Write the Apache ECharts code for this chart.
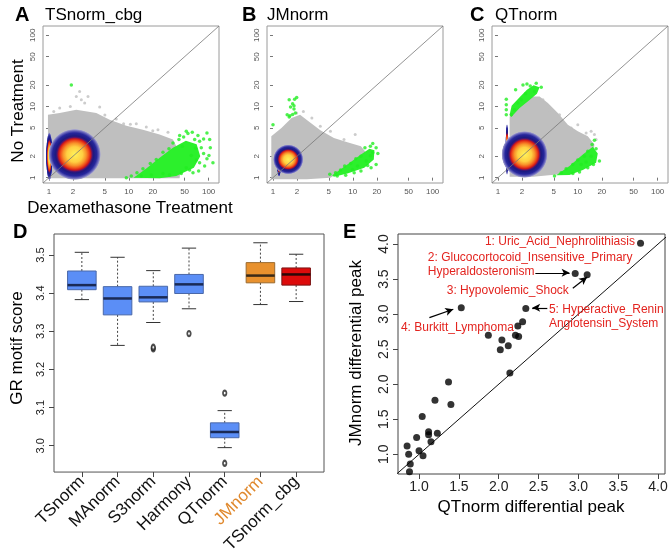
<!DOCTYPE html>
<html><head><meta charset="utf-8">
<script src="https://cdn.jsdelivr.net/npm/echarts@6/dist/echarts.min.js"></script>
<style>html,body{margin:0;padding:0;background:#fff}#c{width:672px;height:556px}</style>
</head><body><div id="c"></div><script>
// ---------- Panels A-C : log10 read counts (x = Dexamethasone, y = No treatment) ----------
const foldTicks = [1, 2, 5, 10, 20, 50, 100];
const scatterTitles = ['TSnorm_cbg', 'JMnorm', 'QTnorm'];

const cloudA = [[-0.013,-0.009],[-0.013,0.884],[0.134,0.907],[0.342,0.953],[0.593,0.907],[0.760,0.814],[0.969,0.730],[1.177,0.674],[1.386,0.605],[1.553,0.535],[1.658,0.302],[1.637,-0.009]];
const greyPtsA = [[0.342,1.140],[0.405,1.093],[0.447,1.047],[0.489,1.140],[0.384,1.209],[0.267,1.0],[0.635,0.991],[0.843,0.823],[0.935,0.758],[1.094,0.758],[1.219,0.712],[1.365,0.674],[1.491,0.637],[0.134,0.977],[0.70,0.88],[1.02,0.75],[1.30,0.66],[0.06,0.93]];
const densA = [[0.005,0.30,0.045,0.34],[0.322,0.326,0.33,0.36]];
const greenAreaA = [[[1.06,0],[1.219,0.130],[1.386,0.280],[1.553,0.420],[1.715,0.520],[1.850,0.470],[1.895,0.300],[1.815,0.140],[1.595,0.023],[1.386,-0.009]]];
const greenPtsA = [[0.969,0],[1.031,0.023],[1.102,0.070],[1.177,0.126],[1.269,0.200],[1.344,0.256],[1.428,0.358],[1.503,0.405],[1.553,0.488],[1.628,0.535],[1.687,0.572],[1.741,0.619],[1.795,0.637],[1.866,0.591],[1.937,0.544],[1.979,0.628],[2.021,0.419],[2.054,0.209],[1.979,0.265],[1.950,0.163],[1.887,0.209],[1.875,0.093],[1.804,0.070],[1.720,0.140],[1.657,0.060],[1.511,0.037],[1.428,0.060],[1.282,0.037],[1.156,0.023],[1.783,0.312],[1.837,0.414],[1.937,0.340],[2.004,0.312],[1.908,0.419],[1.845,0.247],[1.762,0.107],[1.670,0.442],[1.887,0.512],[1.825,0.535],[1.637,0.591],[2.013,0.535],[1.720,0.651],[0.280,1.302]];

const cloudB = [[-0.021,-0.023],[-0.021,0.581],[0.106,0.698],[0.233,0.837],[0.339,0.884],[0.445,0.791],[0.593,0.665],[0.763,0.558],[0.932,0.498],[1.102,0.442],[1.186,0.326],[0.720,0],[0.424,-0.023]];
const greyPtsB = [[0.381,0.930],[0.297,0.907],[0.487,0.837],[0.593,0.721],[0.720,0.651],[0.890,0.535],[1.030,0.605],[0.932,0.442]];
const densB = [[0.076,0.20,0.03,0.19],[0.191,0.256,0.19,0.21]];
const greenAreaB = [[[0.742,0.033],[0.932,0.186],[1.102,0.326],[1.208,0.405],[1.271,0.386],[1.263,0.256],[1.144,0.140],[0.932,0.060],[0.763,0.014]]];
const greenPtsB = [[0,0.744],[0.203,1.093],[0.246,1.037],[0.220,0.991],[0.263,0.963],[0.178,0.884],[0.212,0.870],[0.246,0.888],[0.280,0.907],[0.203,0.851],[0.271,1.102],[0.297,1.126],[0.263,1.009],
  [0.712,0.047],[0.784,0.070],[0.847,0.107],[0.898,0.163],[0.975,0.200],[1.038,0.265],[1.102,0.302],[1.152,0.419],[1.220,0.442],[1.250,0.479],[1.292,0.419],[1.314,0.340],[1.292,0.186],[1.229,0.140],[1.186,0.172],[1.102,0.093],[1.017,0.070],[0.911,0.033],[0.805,0.023],[1.220,0.307],[1.059,0.163],[1.169,0.233],[1.250,0.349],[0.996,0.116]];

const cloudC = [[0.146,0.014],[0.146,0.860],[0.271,1.009],[0.417,1.140],[0.521,1.140],[0.625,1.047],[0.750,0.907],[0.875,0.744],[1.000,0.651],[1.125,0.581],[1.208,0.465],[1.188,0.302],[0.771,0.047],[0.438,0.014]];
const greyPtsC = [[0.563,1.093],[0.646,0.953],[0.708,0.884],[0.771,0.884],[0.917,0.698],[1.000,0.744],[1.104,0.628],[1.208,0.605],[1.229,0.535],[1.167,0.651]];
const densC = [[0.113,0.395,0.022,0.37],[0.333,0.326,0.29,0.33]];
const greenAreaC = [[[0.146,0.884],[0.171,1.009],[0.271,1.130],[0.363,1.233],[0.446,1.298],[0.521,1.270],[0.488,1.177],[0.388,1.084],[0.271,0.977],[0.167,0.851]],
  [[0.729,0.033],[0.896,0.163],[1.063,0.326],[1.188,0.433],[1.250,0.340],[1.229,0.209],[1.063,0.107],[0.896,0.037]]];
const greenPtsC = [[0.104,1.102],[0.104,1.023],[0.104,0.953],[0.104,0.884],[0.221,1.233],[0.313,1.302],[0.363,1.316],[0.404,1.288],[0.479,1.326],[0.542,1.270],[0.458,1.209],[0.292,1.093],[0.208,0.953],[0.346,1.177],[0.167,0.884],[0.250,1.047],
  [0.708,0.023],[0.792,0.070],[0.854,0.126],[0.938,0.186],[1.000,0.247],[1.083,0.302],[1.125,0.372],[1.179,0.465],[1.208,0.526],[1.229,0.405],[1.271,0.233],[1.196,0.186],[1.125,0.140],[1.021,0.079],[0.938,0.060],[1.167,0.302],[1.104,0.219],[1.042,0.186]];

// ---------- Panel D : GR motif score boxplots ----------
const methods = ['TSnorm','MAnorm','S3norm','Harmony','QTnorm','JMnorm','TSnorm_cbg'];
const whiskLow  = [3.383,3.263,3.323,3.359,2.995,3.370,3.378];
const quart1    = [3.409,3.343,3.377,3.399,3.021,3.427,3.421];
const medians   = [3.421,3.386,3.389,3.423,3.036,3.446,3.449];
const quart3    = [3.458,3.417,3.418,3.449,3.060,3.480,3.466];
const whiskHigh = [3.507,3.494,3.459,3.518,3.092,3.532,3.502];
const outlierMethod = ['S3norm','S3norm','Harmony','QTnorm','QTnorm'];
const outlierScore  = [3.254,3.258,3.294,3.138,2.954];
const motifTicks = [3.0,3.1,3.2,3.3,3.4,3.5];

// ---------- Panel E : differential peaks ----------
const qtPeak = [3.78,2.96,3.11,1.53,2.34,2.30,2.24,2.21,2.25,1.87,2.04,2.12,2.02,2.14,1.37,1.20,1.40,1.04,1.12,1.12,1.23,0.97,1.15,1.00,1.05,0.85,0.87,0.89,0.88];
const jmPeak = [4.01,3.58,3.56,3.09,3.08,2.89,2.83,2.70,2.68,2.70,2.63,2.55,2.49,2.16,2.03,1.77,1.71,1.54,1.32,1.28,1.30,1.24,1.18,1.05,0.98,1.12,1.00,0.86,0.75];
const peakTicks = [1.0,1.5,2.0,2.5,3.0,3.5,4.0];
const diseaseNames = ['1: Uric_Acid_Nephrolithiasis','2: Glucocortocoid_Insensitive_Primary','Hyperaldosteronism','3: Hypovolemic_Shock','4: Burkitt_Lymphoma','5: Hyperactive_Renin','Angiotensin_System'];

// ================= build =================
const FONT = 'Liberation Sans, Arial, sans-serif';
const chart = echarts.init(document.getElementById('c'), null, {renderer:'canvas'});
const LOGR = [-0.075, 2.13];
const grids = [
  {left:43, top:26, width:176, height:157, show:true, borderColor:'#9a9a9a', borderWidth:1, backgroundColor:'transparent'},
  {left:267, top:26, width:176, height:157, show:true, borderColor:'#9a9a9a', borderWidth:1, backgroundColor:'transparent'},
  {left:492, top:26, width:176, height:157, show:true, borderColor:'#9a9a9a', borderWidth:1, backgroundColor:'transparent'},
  {left:54, top:234, width:270, height:242, show:true, borderColor:'#555', borderWidth:1, backgroundColor:'transparent'},
  {left:398, top:234, width:267, height:240, show:true, borderColor:'#444', borderWidth:1, backgroundColor:'transparent'}
];
const logVals = foldTicks.map(v => Math.log10(v));
const xAxes = [], yAxes = [];
for (let i = 0; i < 3; i++) {
  xAxes.push({type:'value', gridIndex:i, min:LOGR[0], max:LOGR[1], splitLine:{show:false}, axisLine:{show:false},
    axisTick:{customValues:logVals, length:3, lineStyle:{color:'#777'}},
    axisLabel:{customValues:logVals, formatter:v=>String(Math.round(Math.pow(10,v))), fontSize:8, color:'#555', margin:5, fontFamily:FONT}});
  yAxes.push({type:'value', gridIndex:i, min:LOGR[0], max:LOGR[1], splitLine:{show:false}, axisLine:{show:false},
    axisTick:{customValues:logVals, length:3, lineStyle:{color:'#777'}},
    axisLabel:{customValues:logVals, formatter:v=>String(Math.round(Math.pow(10,v))), fontSize:8, color:'#555', margin:6, rotate:90, fontFamily:FONT}});
}
const methodIdx = methods.map((m,i)=>i+1);
xAxes.push({type:'value', gridIndex:3, min:0.22, max:7.78, splitLine:{show:false}, axisLine:{show:false},
  axisTick:{customValues:methodIdx, length:5, lineStyle:{color:'#444'}},
  axisLabel:{customValues:methodIdx, rotate:45, margin:7, fontFamily:FONT,
    formatter:v=>{const n=methods[Math.round(v)-1]; return n==='JMnorm'?'{o|'+n+'}':'{n|'+n+'}';},
    rich:{n:{fontSize:17, color:'#111', fontFamily:FONT}, o:{fontSize:17, color:'#e0892e', fontFamily:FONT}}}});
yAxes.push({type:'value', gridIndex:3, min:2.931, max:3.555, splitLine:{show:false}, axisLine:{show:false},
  axisTick:{customValues:motifTicks, length:5, lineStyle:{color:'#444'}},
  axisLabel:{customValues:motifTicks, formatter:v=>v.toFixed(1), rotate:90, fontSize:11, color:'#222', margin:8, fontFamily:FONT}});
xAxes.push({type:'value', gridIndex:4, min:0.736, max:4.087, splitLine:{show:false}, axisLine:{show:false},
  axisTick:{customValues:peakTicks, length:5, lineStyle:{color:'#444'}},
  axisLabel:{customValues:peakTicks, formatter:v=>v.toFixed(1), fontSize:14, color:'#222', margin:6, fontFamily:FONT}});
yAxes.push({type:'value', gridIndex:4, min:0.719, max:4.143, splitLine:{show:false}, axisLine:{show:false},
  axisTick:{customValues:peakTicks, length:5, lineStyle:{color:'#444'}},
  axisLabel:{customValues:peakTicks, formatter:v=>v.toFixed(1), rotate:90, fontSize:14, color:'#222', margin:7, fontFamily:FONT}});

function polySeries(i, polys, color, z) {
  return {type:'custom', xAxisIndex:i, yAxisIndex:i, data:[[0,0]], z:z, silent:true, clip:true,
    renderItem:(p, api)=>({type:'group', children: polys.map(poly=>({type:'polygon', shape:{points:poly.map(pt=>api.coord(pt))}, style:{fill:color}}))})};
}
const densStops = [
  {offset:0, color:'#fff35a'},{offset:0.3, color:'#ffd042'},{offset:0.44, color:'#f8922a'},
  {offset:0.54, color:'#ee4c1a'},{offset:0.61, color:'#d0181a'},{offset:0.67, color:'#4c1470'},
  {offset:0.72, color:'#1c1a80'},{offset:0.84, color:'#26269c'},{offset:0.91, color:'#5c5ab6'},
  {offset:0.97, color:'#9c9acc'},{offset:1, color:'rgba(190,190,210,0)'}];
function densSeries(i, blobs) {
  return {type:'custom', xAxisIndex:i, yAxisIndex:i, data:blobs, z:3, silent:true, clip:true,
    renderItem:(p, api)=>{
      const cx=api.value(0), cy=api.value(1), rx=api.value(2), ry=api.value(3);
      const c=api.coord([cx,cy]), ex=api.coord([cx+rx,cy]), ey=api.coord([cx,cy+ry]);
      const R=ex[0]-c[0], Ry=c[1]-ey[1];
      return {type:'circle', x:c[0], y:c[1], scaleY:Ry/R, shape:{cx:0, cy:0, r:R},
        style:{fill:new echarts.graphic.RadialGradient(0.5,0.5,0.5, densStops)}};
    }};
}
const series = [];
const panels = [[cloudA,greyPtsA,densA,greenAreaA,greenPtsA],[cloudB,greyPtsB,densB,greenAreaB,greenPtsB],[cloudC,greyPtsC,densC,greenAreaC,greenPtsC]];
panels.forEach((pd, i)=>{
  series.push(polySeries(i, [pd[0]], '#bfbfbf', 1));
  series.push({type:'scatter', xAxisIndex:i, yAxisIndex:i, data:pd[1], symbolSize:3, itemStyle:{color:'#bfbfbf'}, z:2, silent:true});
  series.push(densSeries(i, pd[2]));
  series.push(polySeries(i, pd[3], '#2cf02c', 4));
  series.push({type:'scatter', xAxisIndex:i, yAxisIndex:i, data:pd[4], symbolSize:3.5, itemStyle:{color:'#22ee22'}, z:5, silent:true});
  series.push({type:'line', xAxisIndex:i, yAxisIndex:i, data:[[LOGR[0],LOGR[0]],[LOGR[1],LOGR[1]]], symbol:'none', lineStyle:{color:'#777', width:0.8}, z:6, silent:true});
});

// boxplots
const boxFill = methods.map(m => m==='JMnorm' ? '#e8912e' : (m==='TSnorm_cbg' ? '#dd0b0b' : '#5b8ef6'));
const boxLine = methods.map(m => m==='JMnorm' ? '#9a6a30' : (m==='TSnorm_cbg' ? '#7a1414' : '#4a68a8'));
const medCol  = methods.map(m => m==='JMnorm' ? '#3a2a18' : (m==='TSnorm_cbg' ? '#2a0808' : '#1a2a55'));
series.push({type:'custom', xAxisIndex:3, yAxisIndex:3, silent:true, z:3,
  data: methods.map((m,i)=>[i+1, whiskLow[i], quart1[i], medians[i], quart3[i], whiskHigh[i]]),
  renderItem:(p, api)=>{
    const i=p.dataIndex, x=api.value(0);
    const lo=api.value(1), q1=api.value(2), md=api.value(3), q3=api.value(4), hi=api.value(5);
    const c=(a,b)=>api.coord([a,b]);
    const hw=0.4, sw=0.2;
    const a=c(x-hw,q3), b=c(x+hw,q1);
    const dash={stroke:'#444', lineWidth:1, lineDash:[2,2]};
    const solid={stroke:'#333', lineWidth:1};
    return {type:'group', children:[
      {type:'line', shape:{x1:c(x,q3)[0], y1:c(x,q3)[1], x2:c(x,hi)[0], y2:c(x,hi)[1]}, style:dash},
      {type:'line', shape:{x1:c(x,q1)[0], y1:c(x,q1)[1], x2:c(x,lo)[0], y2:c(x,lo)[1]}, style:dash},
      {type:'line', shape:{x1:c(x-sw,hi)[0], y1:c(x,hi)[1], x2:c(x+sw,hi)[0], y2:c(x,hi)[1]}, style:solid},
      {type:'line', shape:{x1:c(x-sw,lo)[0], y1:c(x,lo)[1], x2:c(x+sw,lo)[0], y2:c(x,lo)[1]}, style:solid},
      {type:'rect', shape:{x:a[0], y:a[1], width:b[0]-a[0], height:b[1]-a[1]}, style:{fill:boxFill[i], stroke:boxLine[i], lineWidth:1}},
      {type:'line', shape:{x1:a[0], y1:c(x,md)[1], x2:b[0], y2:c(x,md)[1]}, style:{stroke:medCol[i], lineWidth:2.5}}
    ]};
  }});
series.push({type:'scatter', xAxisIndex:3, yAxisIndex:3, silent:true, z:4,
  data: outlierMethod.map((m,k)=>[methods.indexOf(m)+1, outlierScore[k]]),
  symbol:'emptyCircle', symbolSize:[3.5,5], itemStyle:{color:'#222', borderWidth:0.8}});

// panel E
series.push({type:'line', xAxisIndex:4, yAxisIndex:4, data:[[0.7,0.7],[4.2,4.2]], symbol:'none', lineStyle:{color:'#111', width:1}, z:2, silent:true});
series.push({type:'scatter', xAxisIndex:4, yAxisIndex:4, data:qtPeak.map((v,i)=>[v, jmPeak[i]]), symbolSize:7, itemStyle:{color:'#000'}, z:3, silent:true,
  markLine:{silent:true, symbol:['none','arrow'], symbolSize:[6,8], label:{show:false}, lineStyle:{color:'#000', width:1.2, type:'solid'},
    data:[
      [{coord:[2.46,3.59]},{coord:[2.89,3.59]}],
      [{coord:[2.93,3.37]},{coord:[3.11,3.53]}],
      [{coord:[1.13,2.95]},{coord:[1.43,3.07]}],
      [{coord:[2.61,3.09]},{coord:[2.42,3.09]}]
    ]}});
const labelAnchors = [[3.71,4.03,'right'],[1.11,3.80,'left'],[1.11,3.60,'left'],[2.88,3.34,'right'],[2.19,2.80,'right'],[2.63,3.07,'left'],[2.63,2.87,'left']];
series.push({type:'custom', xAxisIndex:4, yAxisIndex:4, silent:true, z:5, clip:false,
  data: labelAnchors.map((a,i)=>[a[0],a[1],i]),
  renderItem:(p, api)=>{
    const i=p.dataIndex, pt=api.coord([api.value(0), api.value(1)]);
    return {type:'text', x:pt[0], y:pt[1], style:{text:diseaseNames[i], fill:'#e3241f', font:'12px '+FONT, align:labelAnchors[i][2], verticalAlign:'middle'}};
  }});

function txt(t, x, y, size, opt) {
  opt = opt || {};
  return {type:'text', x:x, y:y, rotation:opt.rot||0, style:{text:t, fill:opt.color||'#000',
    font:(opt.bold?'bold ':'')+size+'px '+FONT, align:opt.align||'left', verticalAlign:'middle'}, z:100};
}
const graphics = [
  txt('A',15,15,20,{bold:true}), txt(scatterTitles[0],45,15,17),
  txt('B',242,15,20,{bold:true}), txt(scatterTitles[1],267,15,17),
  txt('C',470,15,20,{bold:true}), txt(scatterTitles[2],495,15,17),
  txt('No Treatment',18,111,17,{rot:Math.PI/2, align:'center'}),
  txt('Dexamethasone Treatment',130,208,17,{align:'center'}),
  txt('D',13,232,20,{bold:true}),
  txt('GR motif score',17,348,17,{rot:Math.PI/2, align:'center'}),
  txt('E',343,232,20,{bold:true}),
  txt('JMnorm differential peak',356,353,17,{rot:Math.PI/2, align:'center'}),
  txt('QTnorm differential peak',531,507,17,{align:'center'})
];

chart.setOption({animation:false, backgroundColor:'#fff', grid:grids, xAxis:xAxes, yAxis:yAxes, series:series, graphic:graphics});
</script></body></html>
